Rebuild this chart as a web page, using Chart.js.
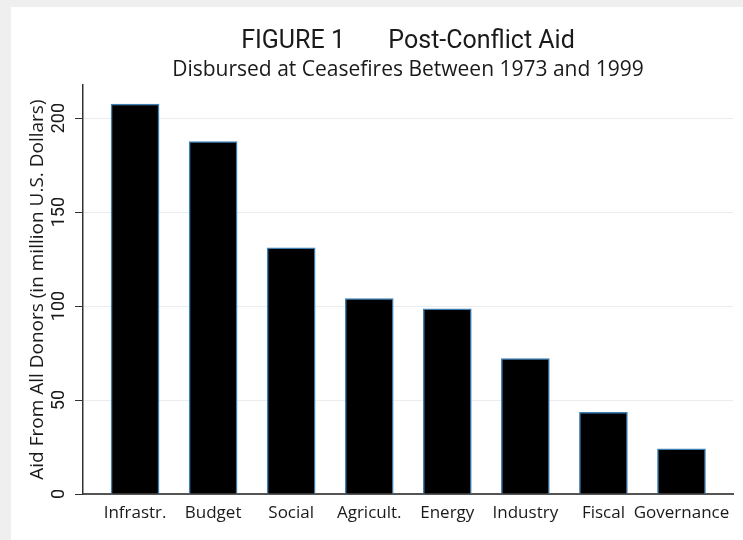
<!DOCTYPE html>
<html>
<head>
<meta charset="utf-8">
<script src="https://cdn.jsdelivr.net/npm/chart.js@4"></script>
<style>
  html, body { margin: 0; padding: 0; background: #efefef; }
  #wrap { position: relative; width: 743px; height: 540px; }
  #paper { position: absolute; left: 11px; top: 7px; right: 0; bottom: 0; background: #fff; }
  #myChart { position: absolute; left: 0; top: 0; }
</style>
</head>
<body>
<div id="wrap">
  <div id="paper"></div>
  <canvas id="myChart" width="743" height="540"></canvas>
</div>
<script>
const categories = ['Infrastr.', 'Budget', 'Social', 'Agricult.', 'Energy', 'Industry', 'Fiscal', 'Governance'];
const aidValues = [207.5, 187.5, 131, 104, 98.5, 72, 43.5, 24];
const yTicks = [0, 50, 100, 150, 200];

const textColor = '#1a1a1a'
const axisColor = '#333'

Chart.defaults.font.family = "'Open Sans', sans-serif";

const ctx = document.getElementById('myChart');

new Chart(ctx, {
    type: 'bar',
    data: {
        datasets: [{
            label: 'Aid',
            data: aidValues.map((v, i) => ({ x: i, y: v })),
            backgroundColor: '#000',
            borderColor: '#3f7fb3',
            borderWidth: 1.5,
            barThickness: 48
        }]
    },
    options: {
        responsive: false,
        animation: false,
        layout: { padding: { left: 0, right: 10, top: 27, bottom: 0 } },
        plugins: {
            legend: { display: false },
            tooltip: { enabled: false },
            title: {
                display: true,
                text: 'FIGURE 1       Post-Conflict Aid',
                fullSize: false,
                color: textColor,
                font: { family: "Roboto, sans-serif", size: 25, weight: 'normal' },
                padding: { top: 0, bottom: 0.3 }
            },
            subtitle: {
                display: true,
                text: 'Disbursed at Ceasefires Between 1973 and 1999',
                fullSize: false,
                color: textColor,
                font: { size: 21 },
                padding: { top: 0, bottom: 2.7 }
            }
        },
        scales: {
            x: {
                type: 'linear',
                offset: false,
                min: -0.667,
                max: 7.66,
                grid: { display: false, drawTicks: false, offset: false },
                border: { color: '#555', width: 2 },
                ticks: {
                    stepSize: 1,
                    includeBounds: false,
                    autoSkip: false,
                    maxRotation: 0,
                    padding: 9,
                    color: textColor,
                    font: { size: 17 },
                    callback: v => categories[v] ?? ''
                },
                afterFit: s => { s.height = 46; }
            },
            y: {
                min: 0,
                max: 217.5,
                afterBuildTicks: s => { s.ticks = yTicks.map(v => ({ value: v })); },
                grid: { color: '#e9edf0', tickColor: axisColor, tickLength: 8 },
                border: { color: axisColor, width: 1.5 },
                ticks: {
                    minRotation: 90,
                    maxRotation: 90,
                    crossAlign: 'center',
                    padding: 0,
                    color: textColor,
                    font: { family: "'Liberation Sans Narrow', Roboto, sans-serif", size: 18 }
                },
                title: {
                    display: true,
                    text: 'Aid From All Donors (in million U.S. Dollars)',
                    color: textColor,
                    font: { size: 19 },
                    padding: { top: 26.5, bottom: 0 }
                },
                afterFit: s => { s.width = 83; }
            }
        }
    }
});
</script>
</body>
</html>
